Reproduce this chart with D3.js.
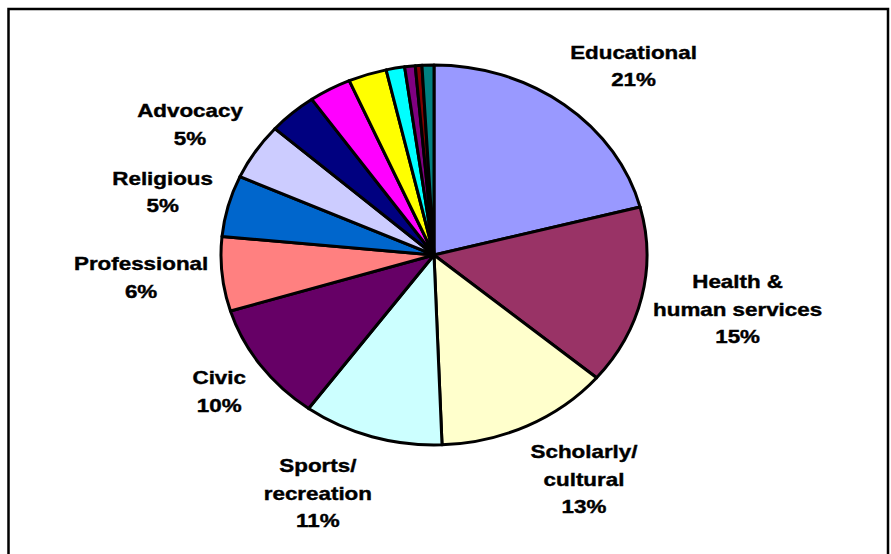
<!DOCTYPE html>
<html>
<head>
<meta charset="utf-8">
<script src="https://cdn.jsdelivr.net/npm/d3@7"></script>
<style>
  body { margin: 0; background: #fff; }
  svg { display: block; }
  .lbl { font: bold 18.5px "Liberation Sans", Arial, sans-serif; fill: #000; stroke: #000; stroke-width: 0.4px; }
</style>
</head>
<body>
<svg id="chart" width="891" height="554"></svg>
<script>
// slices, clockwise from 12 o'clock
const categories = ["Educational", "Health & human services", "Scholarly/cultural", "Sports/recreation",
  "Civic", "Professional", "Religious", "Advocacy",
  "Other A", "Other B", "Other C", "Other D", "Other E", "Other F", "Other G"];
const shares = [20.9, 15.2, 13.2, 10.6, 10.2, 6.3, 5.2, 4.8, 3.7, 3.2, 2.9, 1.4, 0.8, 0.5, 0.9];
// how the label text is broken into lines (null = no label on the chart)
const labelLines = [["Educational"], ["Health &", "human services"], ["Scholarly/", "cultural"],
  ["Sports/", "recreation"], ["Civic"], ["Professional"], ["Religious"], ["Advocacy"],
  null, null, null, null, null, null, null];
const colors = ["#9999FF", "#993366", "#FFFFCC", "#CCFFFF", "#660066", "#FF8080", "#0066CC", "#CCCCFF",
  "#000080", "#FF00FF", "#FFFF00", "#00FFFF", "#800080", "#800000", "#008080"];

const svg = d3.select("#chart");

// frame
svg.append("rect").attr("x", 8.5).attr("y", 9).attr("width", 879.5).attr("height", 620)
  .attr("fill", "none").attr("stroke", "#000").attr("stroke-width", 2.5);

const cx = 434, cy = 255, rx = 213, ry = 190;
const yScale = ry / rx;

const data = categories.map((c, i) => ({ name: c, value: shares[i], lines: labelLines[i], color: colors[i] }));
const total = d3.sum(shares);
const pct = d3.format(".0%");

const pie = d3.pie().sort(null).value(d => d.value);
const arcs = pie(data);
const arc = d3.arc().innerRadius(0).outerRadius(rx);

const g = svg.append("g").attr("transform", `translate(${cx},${cy}) scale(1,${yScale})`);
g.selectAll("path").data(arcs).enter().append("path")
  .attr("d", arc)
  .attr("fill", d => d.data.color)
  .attr("stroke", "#000")
  .attr("stroke-width", 3)
  .attr("stroke-linejoin", "round")
  .attr("vector-effect", "non-scaling-stroke");

// labels: anchor just outside the rim at the mid angle, box hangs outward from it
const labelR = rx + 22, sx = 1.21, lineH = 27.5;
arcs.filter(d => d.data.lines).forEach(d => {
  const a = (d.startAngle + d.endAngle) / 2;
  const s = Math.sin(a), c = Math.cos(a);
  const lines = d.data.lines.concat([pct(d.data.value / total)]);
  const lg = svg.append("g");
  const t = lg.append("text").attr("class", "lbl").attr("text-anchor", "middle");
  lines.forEach((ln, i) => t.append("tspan").attr("x", 0).attr("y", i * lineH).text(ln));
  const w = t.node().getBBox().width * sx;
  const h = lines.length * lineH;
  const ax = cx + labelR * s, ay = cy - labelR * yScale * c;
  const px = ax + 0.88 * Math.sign(s) * w / 2;
  const py = ay - c * h / 2;
  const y0 = py - (lines.length - 1) * lineH / 2 + 5;
  lg.attr("transform", `translate(${px},${y0}) scale(${sx},1)`);
});
</script>
</body>
</html>
